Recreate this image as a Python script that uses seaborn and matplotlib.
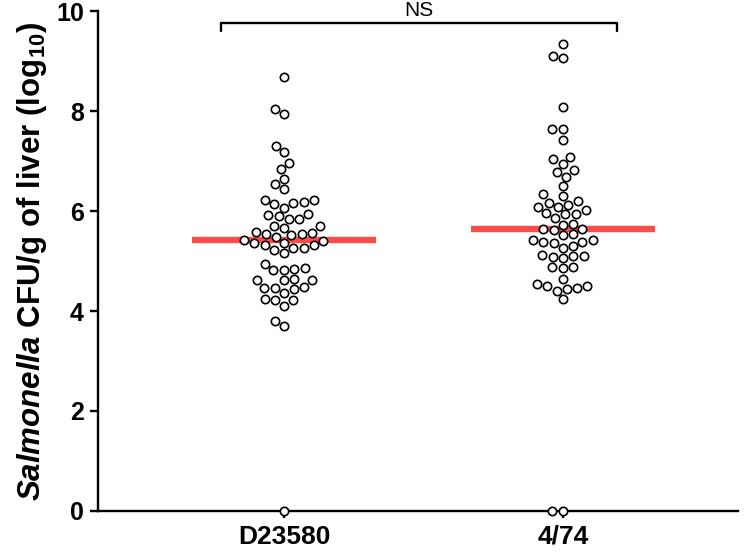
import numpy as np
import pandas as pd
import matplotlib
matplotlib.use('Agg')
import matplotlib.pyplot as plt
import seaborn as sns

# log10 CFU per gram of liver
strains = ['D23580', '4/74']

d23580_cfu = [8.69, 8.04, 7.95, 7.31, 7.19, 6.97, 6.84, 6.65, 6.54, 6.44,
              6.23, 6.19, 6.15, 6.17, 6.22, 6.07,
              5.85, 5.92, 5.90, 5.94, 5.84, 5.70, 5.66, 5.70,
              5.59, 5.55, 5.52, 5.42, 5.41, 5.49, 5.55, 5.57,
              5.37, 5.32, 5.27, 5.17, 5.23, 5.27, 5.32, 5.37,
              4.87, 4.82, 4.82, 4.85, 4.94, 4.62, 4.62, 4.62, 4.65,
              4.47, 4.45, 4.37, 4.47, 4.49, 4.22, 4.11, 4.22, 4.25,
              3.81, 3.71, 0.0]

st474_cfu = [9.34, 9.11, 9.07, 8.09, 7.65, 7.65, 7.42, 7.04, 6.95, 7.09,
             6.82, 6.79, 6.69, 6.50, 6.34, 6.30, 6.20, 6.13, 6.09, 6.09,
             6.02, 6.17, 5.97, 5.94, 5.87, 5.95, 5.74, 5.73,
             5.64, 5.62, 5.52, 5.54, 5.64,
             5.43, 5.39, 5.37, 5.30, 5.38, 5.43, 5.27,
             5.11, 5.10, 5.07, 5.09, 5.12, 4.89, 4.87, 4.89,
             4.55, 4.50, 4.45, 4.40, 4.47, 4.51, 4.65, 4.24, 0.0, 0.0]

y_ticks = [0, 2, 4, 6, 8, 10]
ns_label = 'NS'

sns.set_style('ticks')
plt.rcParams['font.family'] = ['Liberation Sans', 'DejaVu Sans']
plt.rcParams['mathtext.fontset'] = 'custom'
plt.rcParams['mathtext.rm'] = 'Liberation Sans:bold'
plt.rcParams['mathtext.it'] = 'Liberation Sans:bold:italic'
plt.rcParams['mathtext.bf'] = 'Liberation Sans:bold'
plt.rcParams['text.color'] = 'black'
plt.rcParams['axes.labelcolor'] = 'black'
plt.rcParams['xtick.color'] = 'black'
plt.rcParams['ytick.color'] = 'black'
plt.rcParams['axes.edgecolor'] = 'black'

df = pd.DataFrame({
    'strain': ['D23580'] * len(d23580_cfu) + ['4/74'] * len(st474_cfu),
    'cfu': d23580_cfu + st474_cfu,
})

fig = plt.figure(figsize=(7.52, 5.53), dpi=100)
ax = fig.add_axes([0.130, 0.076, 0.851, 0.904])

# median line only
sns.boxplot(data=df, x='strain', y='cfu', order=strains, width=0.66,
            showbox=False, showcaps=False, showfliers=False,
            whiskerprops={'visible': False},
            medianprops={'color': '#ff4a4a', 'linewidth': 4.6,
                         'solid_capstyle': 'butt'},
            ax=ax)

sns.swarmplot(data=df, x='strain', y='cfu', order=strains, size=6,
              color='white', edgecolor='black', linewidth=1.2,
              ax=ax, zorder=5)
for coll in ax.collections:
    coll.set_clip_on(False)

ax.set_xlim(-0.668, 1.627)
ax.set_ylim(0, 10)
ax.set_yticks(y_ticks)

# significance bracket
bx0, bx1 = -0.225, 1.195
ax.plot([bx0, bx0, bx1, bx1], [9.6, 9.76, 9.76, 9.6], color='black',
        lw=1.7, clip_on=False)
ax.text((bx0 + bx1) / 2, 9.83, ns_label, ha='center', va='bottom',
        fontsize=15)

sns.despine(ax=ax)
for side in ['left', 'bottom']:
    ax.spines[side].set_linewidth(1.7)
ax.tick_params(axis='y', length=6, width=1.7, labelsize=18, pad=4)
ax.tick_params(axis='x', length=5, width=1.7, labelsize=19, pad=5)
for lab in ax.get_xticklabels() + ax.get_yticklabels():
    lab.set_fontweight('bold')

ax.set_xlabel('')
ax.set_ylabel(r'$\mathit{Salmonella}$ CFU/g of liver (log$_{10}$)',
              fontsize=22.5, fontweight='bold', labelpad=5)

fig.savefig('out.png', dpi=100)
